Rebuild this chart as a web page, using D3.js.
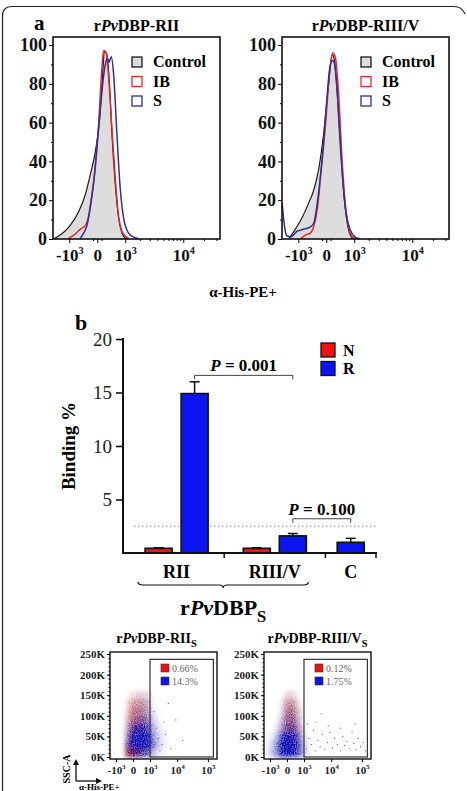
<!DOCTYPE html>
<html>
<head>
<meta charset="utf-8">
<title>rPvDBP binding</title>
<script src="https://cdn.jsdelivr.net/npm/d3@7"></script>
<style>
  html, body { margin: 0; padding: 0; background: #fff; }
  svg { display: block; }
  text { font-family: "Liberation Serif", "Times New Roman", serif; }
</style>
</head>
<body>
<div id="chart"></div>
<script>
// ---------- data ----------
// panel a: histograms (x = a-His-PE fluorescence, y = % of max)
var histPanels = ["RII", "RIII/V"];
var histSeries = ["Control", "IB", "S"];
var histXTicks = [-1000, 0, 1000, 10000];
var histXLabels = [["-10", "3"], ["0", ""], ["10", "3"], ["10", "4"]];
var histYTicks = [0, 20, 40, 60, 80, 100];

var riiControl = [[-2100,0],[-1800,1],[-950,7],[-565,14],[-320,23],[-175,33],[-45,45],[55,62],[140,88],[175,97],[250,95],[335,79],[415,54],[540,28],[675,11],[830,3],[1000,0.5],[1200,0]];
var riiIB = [[-1040,0.3],[-780,2],[-500,5],[-320,7],[-220,12],[-130,23],[-45,37],[30,59],[110,88],[155,97],[230,96],[300,84],[415,57],[540,31],[675,12],[830,4],[1000,1.5],[1190,0.3]];
var riiS = [[-500,0.3],[-380,3],[-270,7],[-175,16],[-85,29],[-5,48],[70,67],[155,84],[230,92],[270,93],[315,91],[390,94],[475,85],[605,54],[750,26],[910,11],[1190,3],[1510,1],[1890,0.3]];
var riiiControl = [[-1610,0],[-1170,5],[-810,11],[-525,18.5],[-345,25],[-195,35.5],[-60,54.5],[55,80],[140,95],[200,93],[280,78],[390,51],[510,25],[650,9],[800,2],[960,0]];
var riiiIB = [[-895,0],[-660,2],[-460,3],[-345,6.3],[-220,16.6],[-130,34],[-20,58],[75,85.5],[165,96],[240,93],[335,75],[450,42],[620,13],[800,3],[1050,0]];
var riiiS = [[-2140,18.5],[-2000,10],[-1780,2],[-1490,1],[-1070,4],[-740,5],[-460,6.3],[-345,8],[-220,20],[-100,41],[0,68],[75,87],[145,92],[200,91],[280,78],[390,49],[580,16.5],[800,4.6],[1050,1],[1360,0]];

// panel b: binding %
var groups = ["RII", "RIII/V", "C"];
var groupSlots = [2, 2, 1];
var nValues = [0.44, 0.44, null];
var nErrors = [0.05, 0.05, null];
var rValues = [14.9, 1.6, 1.0];
var rErrors = [1.1, 0.22, 0.37];
var barYTicks = [5, 10, 15, 20];
var cutoff = 2.5;
var pPairs = [[0, 1], [1, 2]];
var pLevels = [16.6, 3.2];
var pLabels = ["0.001", "0.100"];

// panel c: dot plots, density (rows = SSC bins bottom->top)
var dotXEdges = [-1200, -600, -300, -100, 100, 300, 600, 1000, 1600, 2600, 4500];
var dotYEdges = [0, 20, 40, 60, 80, 100, 120, 140, 160];
var dotXTicks = [-1000, 0, 1000, 10000, 100000];
var dotXLabels = [["-10", "3"], ["0", ""], ["10", "3"], ["10", "4"], ["10", "5"]];
var dotYTicks = [0, 50, 100, 150, 200, 250];
var dotPanels = ["RII", "RIII/V"];
var dotPercentN = ["0.66%", "0.12%"];
var dotPercentR = ["14.3%", "1.75%"];

var riiRed = [
  [0, 0.05, 0.8, 0.95, 0.8, 0.5, 0.3, 0.05, 0, 0],
  [0, 0.03, 0.6, 0.85, 0.7, 0.5, 0.3, 0.05, 0, 0],
  [0, 0, 0.35, 0.65, 0.6, 0.5, 0.3, 0.05, 0, 0],
  [0, 0, 0.3, 0.6, 0.6, 0.5, 0.3, 0.05, 0, 0],
  [0, 0, 0.25, 0.55, 0.55, 0.45, 0.3, 0.03, 0, 0],
  [0, 0, 0.2, 0.5, 0.5, 0.4, 0.25, 0, 0, 0],
  [0, 0, 0.12, 0.4, 0.4, 0.35, 0.2, 0, 0, 0],
  [0, 0, 0.03, 0.12, 0.15, 0.12, 0.08, 0, 0, 0]
];
var riiBlue = [
  [0, 0, 0.2, 0.5, 0.6, 0.6, 0.5, 0.3, 0.1, 0.03],
  [0, 0, 0.4, 0.9, 1, 1, 0.9, 0.6, 0.25, 0.08],
  [0, 0, 0.3, 0.85, 1, 1, 0.9, 0.5, 0.2, 0.06],
  [0, 0, 0.15, 0.55, 0.75, 0.75, 0.6, 0.35, 0.12, 0.03],
  [0, 0, 0.05, 0.2, 0.35, 0.4, 0.35, 0.2, 0.06, 0],
  [0, 0, 0, 0.1, 0.2, 0.25, 0.2, 0.1, 0.03, 0],
  [0, 0, 0, 0.05, 0.1, 0.15, 0.15, 0.05, 0, 0],
  [0, 0, 0, 0, 0.05, 0.08, 0.08, 0.03, 0, 0]
];
var riiiRed = [
  [0, 0.05, 0.3, 0.5, 0.5, 0.3, 0.1, 0, 0, 0],
  [0, 0.05, 0.3, 0.5, 0.5, 0.3, 0.1, 0, 0, 0],
  [0, 0, 0.2, 0.55, 0.6, 0.35, 0.1, 0, 0, 0],
  [0, 0, 0.15, 0.55, 0.65, 0.35, 0.1, 0, 0, 0],
  [0, 0, 0.1, 0.5, 0.6, 0.3, 0.05, 0, 0, 0],
  [0, 0, 0.05, 0.45, 0.55, 0.25, 0.05, 0, 0, 0],
  [0, 0, 0.03, 0.35, 0.4, 0.15, 0, 0, 0, 0],
  [0, 0, 0, 0.12, 0.15, 0.05, 0, 0, 0, 0]
];
var riiiBlue = [
  [0.2, 0.5, 0.8, 0.9, 0.9, 0.7, 0.4, 0.1, 0.02, 0],
  [0.15, 0.5, 0.9, 1, 1, 0.8, 0.4, 0.08, 0.02, 0],
  [0.05, 0.3, 0.65, 0.85, 0.85, 0.6, 0.25, 0.05, 0, 0],
  [0, 0.1, 0.3, 0.45, 0.5, 0.35, 0.1, 0, 0, 0],
  [0, 0.03, 0.15, 0.3, 0.3, 0.2, 0.05, 0, 0, 0],
  [0, 0, 0.08, 0.2, 0.2, 0.12, 0.03, 0, 0, 0],
  [0, 0, 0.05, 0.12, 0.12, 0.06, 0, 0, 0, 0],
  [0, 0, 0, 0.05, 0.05, 0.02, 0, 0, 0, 0]
];
// scattered events inside the gate: [fluorescence, SSC (K)]
var riiSparse = [[1500,110],[2200,45],[3000,30],[1800,70],[4000,55],[6000,20],[9000,90],[1300,25],[2500,15],[15000,40],[5000,130],[3500,85]];
var riiiSparse = [[1300,20],[1600,45],[2000,30],[2400,65],[2800,15],[3500,40],[4200,25],[5000,55],[6000,18],[7500,35],[9000,60],[11000,22],[13000,45],[16000,30],[20000,15],[24000,50],[28000,28],[33000,38],[40000,20],[48000,60],[55000,33],[65000,18],[75000,45],[90000,25],[110000,35],[130000,15],[1400,80],[3000,85],[8000,75],[20000,70],[4500,105],[60000,80]];

// ---------- drawing ----------
var W = 467, H = 791;
var histColors = ["#1a1a1a", "#e8262e", "#2f2f9c"];
var redFill = "#f01010", blueFill = "#0a14f0";

var svg = d3.select("#chart").append("svg")
    .attr("width", W)
    .attr("height", H);

// outer rounded border
svg.append("path")
    .attr("d", "M2.5,791 L2.5,16 Q2.5,6.5 12,6.5 L454,6.5 Q462,6.5 465,14")
    .attr("fill", "none")
    .attr("stroke", "#222")
    .attr("stroke-width", 1.2);

// helper: tick labels like 10^3
function supLabels(axisG, labels, size) {
  axisG.selectAll(".tick text").each(function(d, i) {
    var t = d3.select(this).text(null);
    t.append("tspan").text(labels[i][0]);
    if (labels[i][1]) {
      t.append("tspan").attr("dy", -size * 0.42).attr("font-size", size * 0.6).text(labels[i][1]);
    }
  });
}

function dbpTitle(sel, region, size, sub) {
  sel.append("tspan").text("r");
  sel.append("tspan").attr("font-style", "italic").text("Pv");
  sel.append("tspan").text("DBP" + region);
  if (sub) sel.append("tspan").attr("dy", size * 0.3).attr("font-size", size * 0.75).text("S");
}

// ===== panel a =====
svg.append("text").attr("x", 34).attr("y", 30)
    .attr("font-size", 21).attr("font-weight", "bold").text("a");

var histData = [[riiControl, riiIB, riiS], [riiiControl, riiiIB, riiiS]];
var histLeft = [53, 282];

histPanels.forEach(function(name, pi) {
  var x0 = histLeft[pi], w = 167;
  var x = d3.scaleSymlog().constant(700).domain([-2150, 33600]).range([x0, x0 + w]);
  var y = d3.scaleLinear().domain([0, 100]).range([239, 45]);
  var g = svg.append("g");

  g.append("text")
      .attr("x", x0 + w / 2).attr("y", 31)
      .attr("text-anchor", "middle")
      .attr("font-size", 16).attr("font-weight", "bold")
      .call(dbpTitle, "-" + name, 16, false);

  var area = d3.area()
      .x(function(d) { return x(d[0]); })
      .y0(y(0))
      .y1(function(d) { return y(d[1]); })
      .curve(d3.curveMonotoneX);
  var line = d3.line()
      .x(function(d) { return x(d[0]); })
      .y(function(d) { return y(d[1]); })
      .curve(d3.curveMonotoneX);

  g.append("path").datum(histData[pi][0])
      .attr("d", area)
      .attr("fill", "#dddddd");
  histData[pi].forEach(function(c, si) {
    g.append("path").datum(c)
        .attr("d", line)
        .attr("fill", "none")
        .attr("stroke", histColors[si])
        .attr("stroke-width", si === 0 ? 1.2 : 1.5);
  });

  // frame
  g.append("rect")
      .attr("x", x0).attr("y", 37)
      .attr("width", w).attr("height", 202)
      .attr("fill", "none").attr("stroke", "#111").attr("stroke-width", 1.6);

  // y axis
  var ya = g.append("g").attr("transform", "translate(" + x0 + ",0)")
      .call(d3.axisLeft(y).tickValues(histYTicks).tickSize(4).tickPadding(2));
  ya.select(".domain").remove();
  ya.selectAll("text").attr("font-size", 18).attr("font-weight", "bold")
      .attr("font-family", '"Liberation Serif", serif').attr("fill", "#111");
  g.append("g").attr("transform", "translate(" + x0 + ",0)")
      .call(d3.axisLeft(y).tickValues(d3.range(10, 100, 20)).tickSize(2).tickFormat(""))
      .select(".domain").remove();

  // x axis
  var xa = g.append("g").attr("transform", "translate(0,239)")
      .call(d3.axisBottom(x).tickValues(histXTicks).tickSize(4).tickPadding(6));
  xa.select(".domain").remove();
  xa.selectAll("text").attr("font-size", 17).attr("font-weight", "bold")
      .attr("font-family", '"Liberation Serif", serif').attr("fill", "#111");
  supLabels(xa, histXLabels, 17);
  g.append("g").attr("transform", "translate(0,239)")
      .call(d3.axisBottom(x).tickValues([-100, 100, 2000, 3000, 4000, 5000, 6000, 7000, 8000, 9000, 20000, 30000]).tickSize(2).tickFormat(""))
      .select(".domain").remove();

  // legend
  histSeries.forEach(function(s, si) {
    var ly = 57 + si * 19.5;
    g.append("rect")
        .attr("x", x0 + 79).attr("y", ly)
        .attr("width", 10).attr("height", 10)
        .attr("fill", si === 0 ? "#dddddd" : "#fff")
        .attr("stroke", histColors[si]).attr("stroke-width", 1.3);
    g.append("text")
        .attr("x", x0 + 100).attr("y", ly + 10)
        .attr("font-size", 16).attr("font-weight", "bold")
        .text(s);
  });
});

svg.append("text").attr("x", 243).attr("y", 297)
    .attr("text-anchor", "middle")
    .attr("font-size", 15).attr("font-weight", "bold")
    .text("\u03b1-His-PE+");

// ===== panel b =====
svg.append("text").attr("x", 75).attr("y", 330)
    .attr("font-size", 22).attr("font-weight", "bold").text("b");

var by = d3.scaleLinear().domain([0, 20]).range([553, 339]);
var slot = d3.scaleLinear().domain([0, d3.sum(groupSlots)]).range([123, 376]);
var groupStart = groupSlots.map(function(s, i) { return d3.sum(groupSlots.slice(0, i)); });
var inner = d3.scaleBand().domain(["N", "R"]).paddingInner(0.25).paddingOuter(0.53);

function barCenter(gi, series) {
  var a = slot(groupStart[gi]), b = slot(groupStart[gi] + groupSlots[gi]);
  if (groupSlots[gi] === 1) return (a + b) / 2;
  inner.range([a, b]);
  return inner(series) + inner.bandwidth() / 2 + (gi === 0 ? 3 : 0);
}
inner.range([slot(0), slot(2)]);
var bw = inner.bandwidth();

var bg = svg.append("g");

// cutoff line
bg.append("line")
    .attr("x1", slot(0) + 11).attr("x2", slot(5) + 2)
    .attr("y1", by(cutoff)).attr("y2", by(cutoff))
    .attr("stroke", "#888").attr("stroke-width", 1)
    .attr("stroke-dasharray", "1.5,2.5");

var bars = [];
groups.forEach(function(gname, gi) {
  if (nValues[gi] !== null) bars.push({ g: gi, s: "N", v: nValues[gi], e: nErrors[gi], c: redFill });
  bars.push({ g: gi, s: "R", v: rValues[gi], e: rErrors[gi], c: blueFill });
});

bars.forEach(function(b) {
  var cx = barCenter(b.g, b.s);
  bg.append("line")
      .attr("x1", cx).attr("x2", cx)
      .attr("y1", by(b.v)).attr("y2", by(b.v + b.e))
      .attr("stroke", "#111").attr("stroke-width", 1.5);
  bg.append("line")
      .attr("x1", cx - 5).attr("x2", cx + 5)
      .attr("y1", by(b.v + b.e)).attr("y2", by(b.v + b.e))
      .attr("stroke", "#111").attr("stroke-width", 1.5);
  bg.append("rect")
      .attr("x", cx - bw / 2).attr("y", by(b.v))
      .attr("width", bw).attr("height", by(0) - by(b.v))
      .attr("fill", b.c).attr("stroke", "#111").attr("stroke-width", 1.6);
});

// y axis
var bya = bg.append("g").attr("transform", "translate(" + slot(0) + ",0)")
    .call(d3.axisLeft(by).tickValues(barYTicks).tickSize(7).tickPadding(4));
bya.select(".domain").remove();
bya.selectAll("line").attr("stroke-width", 1.5);
bya.selectAll("text").attr("font-size", 19).attr("font-family", '"Liberation Serif", serif').attr("fill", "#222");
bg.append("line")
    .attr("x1", slot(0)).attr("x2", slot(0))
    .attr("y1", by(20) - 1).attr("y2", by(0) + 1)
    .attr("stroke", "#111").attr("stroke-width", 2);

// x axis
bg.append("line")
    .attr("x1", slot(0) - 1).attr("x2", slot(5) + 1)
    .attr("y1", by(0)).attr("y2", by(0))
    .attr("stroke", "#111").attr("stroke-width", 2);
groupStart.forEach(function(s, gi) {
  var tx = slot(s + groupSlots[gi]);
  bg.append("line")
      .attr("x1", tx).attr("x2", tx)
      .attr("y1", by(0)).attr("y2", by(0) + 5)
      .attr("stroke", "#111").attr("stroke-width", 1.5);
  bg.append("text")
      .attr("x", (slot(s) + tx) / 2 + (gi === 0 ? 3 : 0)).attr("y", 578)
      .attr("text-anchor", "middle")
      .attr("font-size", 18).attr("font-weight", "bold")
      .text(groups[gi]);
});

// brace under the recombinant proteins
var bx1 = slot(0) + 15, bx2 = slot(4) - 17, bmid = (bx1 + bx2) / 2, byy = 585;
bg.append("path")
    .attr("d", "M" + bx1 + "," + (byy - 3) + " Q" + bx1 + "," + byy + " " + (bx1 + 5) + "," + byy +
               " L" + (bmid - 4) + "," + byy + " Q" + bmid + "," + byy + " " + bmid + "," + (byy + 3) +
               " Q" + bmid + "," + byy + " " + (bmid + 4) + "," + byy +
               " L" + (bx2 - 5) + "," + byy + " Q" + bx2 + "," + byy + " " + bx2 + "," + (byy - 3))
    .attr("fill", "none").attr("stroke", "#111").attr("stroke-width", 1.2);

bg.append("text")
    .attr("x", bmid).attr("y", 615)
    .attr("text-anchor", "middle")
    .attr("font-size", 22).attr("font-weight", "bold")
    .call(dbpTitle, "", 22, true);

// y label
bg.append("text")
    .attr("transform", "translate(75," + by(10) + ") rotate(-90)")
    .attr("text-anchor", "middle")
    .attr("font-size", 19).attr("font-weight", "bold")
    .text("Binding %");

// p-value brackets
pPairs.forEach(function(pp, i) {
  var xa = barCenter(pp[0], "R"), xb = barCenter(pp[1], "R"), yy = by(pLevels[i]);
  bg.append("path")
      .attr("d", "M" + xa + "," + (yy + 4) + " L" + xa + "," + yy + " L" + xb + "," + yy + " L" + xb + "," + (yy + 4))
      .attr("fill", "none").attr("stroke", "#444").attr("stroke-width", 1);
  var t = bg.append("text")
      .attr("x", (xa + xb) / 2).attr("y", yy - 4)
      .attr("text-anchor", "middle")
      .attr("font-size", 17).attr("font-weight", "bold");
  t.append("tspan").attr("font-style", "italic").text("P");
  t.append("tspan").text(" = " + pLabels[i]);
});

// legend
[["N", redFill], ["R", blueFill]].forEach(function(l, i) {
  bg.append("rect")
      .attr("x", 321).attr("y", 343 + i * 18.5)
      .attr("width", 14).attr("height", 14)
      .attr("fill", l[1]).attr("stroke", "#111").attr("stroke-width", 1.3);
  bg.append("text")
      .attr("x", 343).attr("y", 355.5 + i * 18.5)
      .attr("font-size", 16).attr("font-weight", "bold")
      .text(l[0]);
});

// ===== panel c: dot plots =====
var defs = svg.append("defs");
var soft = defs.append("filter").attr("id", "soft")
    .attr("x", "-20%").attr("y", "-20%").attr("width", "140%").attr("height", "140%");
soft.append("feGaussianBlur").attr("in", "SourceGraphic").attr("stdDeviation", 2.2).attr("result", "b");
soft.append("feTurbulence").attr("type", "fractalNoise").attr("baseFrequency", 0.9)
    .attr("numOctaves", 1).attr("seed", 4).attr("result", "n");
soft.append("feColorMatrix").attr("in", "n").attr("type", "matrix")
    .attr("values", "0 0 0 0 0  0 0 0 0 0  0 0 0 0 0  0 0 0 2 -0.4").attr("result", "na");
soft.append("feComposite").attr("in", "b").attr("in2", "na").attr("operator", "arithmetic")
    .attr("k1", 0.7).attr("k2", 0.55).attr("k3", 0).attr("k4", 0);

var dotData = [[riiRed, riiBlue, riiSparse], [riiiRed, riiiBlue, riiiSparse]];
var dotLeft = [110, 264];
var dotTitleShift = [-7, 0];

dotPanels.forEach(function(name, pi) {
  var x0 = dotLeft[pi], w = 107;
  var x = d3.scaleSymlog().constant(400).domain([-1784, 196000]).range([x0, x0 + w]);
  var y = d3.scaleLinear().domain([0, 250]).range([757, 654]);
  var g = svg.append("g");

  defs.append("clipPath").attr("id", "clip" + pi)
    .append("rect").attr("x", x0).attr("y", 652).attr("width", w).attr("height", 107);

  g.append("text")
      .attr("x", x0 + w / 2 + dotTitleShift[pi]).attr("y", 643)
      .attr("text-anchor", "middle")
      .attr("font-size", 14).attr("font-weight", "bold")
      .call(dbpTitle, "-" + name, 14, true);

  var cloud = g.append("g").attr("clip-path", "url(#clip" + pi + ")")
      .append("g").attr("filter", "url(#soft)");
  [[dotData[pi][0], redFill], [dotData[pi][1], blueFill]].forEach(function(pair) {
    pair[0].forEach(function(row, ri) {
      row.forEach(function(v, ci) {
        if (!v) return;
        cloud.append("rect")
            .attr("x", x(dotXEdges[ci]))
            .attr("y", y(dotYEdges[ri + 1]))
            .attr("width", x(dotXEdges[ci + 1]) - x(dotXEdges[ci]))
            .attr("height", y(dotYEdges[ri]) - y(dotYEdges[ri + 1]))
            .attr("fill", pair[1])
            .attr("fill-opacity", Math.min(1, v * 1.05));
      });
    });
  });
  g.selectAll(".sparse" + pi).data(dotData[pi][2]).enter().append("circle")
      .attr("cx", function(d) { return x(d[0]); })
      .attr("cy", function(d) { return y(d[1]); })
      .attr("r", 0.6)
      .attr("fill", "#5a4a9a");

  // frame
  g.append("rect")
      .attr("x", x0).attr("y", 652)
      .attr("width", w).attr("height", 107)
      .attr("fill", "none").attr("stroke", "#111").attr("stroke-width", 1.4);

  // gate
  var gx = x(1000), gx2 = x(150000);
  g.append("rect")
      .attr("x", gx).attr("y", y(237))
      .attr("width", gx2 - gx).attr("height", y(0) - y(237))
      .attr("fill", "none").attr("stroke", "#333").attr("stroke-width", 1.2);
  [[dotPercentN[pi], redFill], [dotPercentR[pi], blueFill]].forEach(function(l, i) {
    g.append("rect")
        .attr("x", gx + 11).attr("y", 664 + i * 13)
        .attr("width", 8).attr("height", 8)
        .attr("fill", l[1]).attr("stroke", "#333").attr("stroke-width", 0.6);
    g.append("text")
        .attr("x", gx + 22).attr("y", 671.5 + i * 13)
        .attr("font-size", 10).attr("fill", "#666")
        .text(l[0]);
  });

  // axes
  var ya = g.append("g").attr("transform", "translate(" + x0 + ",0)")
      .call(d3.axisLeft(y).tickValues(dotYTicks).tickSize(3).tickPadding(2)
        .tickFormat(function(d) { return d + "K"; }));
  ya.select(".domain").remove();
  ya.selectAll("text").attr("font-size", 11).attr("font-weight", "bold")
      .attr("font-family", '"Liberation Serif", serif').attr("fill", "#222");
  g.append("g").attr("transform", "translate(" + x0 + ",0)")
      .call(d3.axisLeft(y).tickValues(d3.range(10, 250, 10)).tickSize(1.5).tickFormat(""))
      .select(".domain").remove();

  var xa = g.append("g").attr("transform", "translate(0,759)")
      .call(d3.axisBottom(x).tickValues(dotXTicks).tickSize(3).tickPadding(4));
  xa.select(".domain").remove();
  xa.selectAll("text").attr("font-size", 11).attr("font-weight", "bold")
      .attr("font-family", '"Liberation Serif", serif').attr("fill", "#222");
  supLabels(xa, dotXLabels, 11);
});

// SSC-A / His-PE orientation arrows
var arrow = svg.append("g").attr("stroke", "#111").attr("fill", "#111");
arrow.append("path").attr("d", "M76,781 L76,763").attr("stroke-width", 1.3).attr("fill", "none");
arrow.append("path").attr("d", "M76,781 L98,781").attr("stroke-width", 1.3).attr("fill", "none");
arrow.append("path").attr("d", "M73,765 L76,759 L79,765 Z").attr("stroke", "none");
arrow.append("path").attr("d", "M96,778 L102,781 L96,784 Z").attr("stroke", "none");
svg.append("text")
    .attr("transform", "translate(70,769) rotate(-90)")
    .attr("text-anchor", "middle")
    .attr("font-size", 10).attr("font-weight", "bold")
    .text("SSC-A");
svg.append("text")
    .attr("x", 79).attr("y", 790)
    .attr("font-size", 9).attr("font-weight", "bold")
    .text("\u03b1-His-PE+");
</script>
</body>
</html>
